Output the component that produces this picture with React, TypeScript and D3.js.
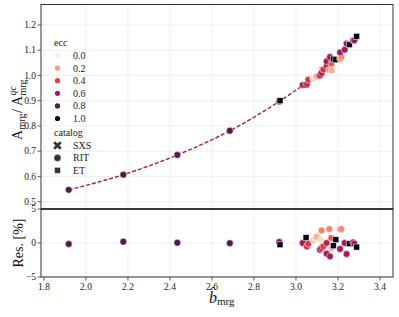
import React from 'react'
import * as d3 from 'd3'

// b-hat at merger, amplitude ratio, residual in %, eccentricity, catalog
const bHat = [1.918, 2.178, 2.435, 2.685, 2.920, 2.924, 3.032, 3.048, 3.052, 3.059, 3.082, 3.092, 3.099, 3.118, 3.122, 3.114, 3.122, 3.130, 3.146, 3.146, 3.159, 3.162, 3.168, 3.170, 3.178, 3.190, 3.210, 3.216, 3.210, 3.232, 3.241, 3.254, 3.272, 3.278, 3.289]
const ampRatio = [0.547, 0.607, 0.685, 0.781, 0.897, 0.900, 0.962, 0.962, 0.965, 0.983, 0.988, 0.993, 0.996, 1.025, 1.003, 1.000, 1.010, 1.023, 1.038, 1.056, 1.023, 1.073, 1.046, 1.020, 1.065, 1.062, 1.066, 1.073, 1.091, 1.102, 1.126, 1.122, 1.139, 1.139, 1.155]
const residual = [-0.15, 0.2, 0.05, -0.03, 0.15, -0.25, 0.0, 0.78, -0.5, -0.1, 0.38, 0.73, 0.88, 0.49, 1.85, -0.98, -0.74, -0.5, 0.0, -1.57, 2.05, -1.96, 0.73, -0.74, -0.4, 0.49, 2.05, 2.05, -0.88, 0.0, -1.62, -0.1, 0.1, -0.1, -0.6]
const ecc = [0.8, 0.8, 0.8, 0.8, 0.7, 1.0, 0.6, 1.0, 0.5, 0.45, 0.1, 0.05, 0.15, 0.05, 0.25, 0.55, 0.6, 0.45, 0.55, 0.6, 0.25, 0.6, 0.35, 0.15, 1.0, 1.0, 0.25, 0.25, 0.6, 0.6, 0.6, 1.0, 0.6, 0.65, 1.0]
const catalog = ['RIT', 'RIT', 'RIT', 'RIT', 'RIT', 'ET', 'RIT', 'ET', 'RIT', 'RIT', 'RIT', 'RIT', 'RIT', 'RIT', 'RIT', 'RIT', 'RIT', 'RIT', 'RIT', 'RIT', 'RIT', 'RIT', 'RIT', 'RIT', 'ET', 'ET', 'RIT', 'RIT', 'RIT', 'RIT', 'RIT', 'ET', 'RIT', 'RIT', 'ET']

// fitted curve
const fitB = [1.918, 2.178, 2.435, 2.685, 2.92, 3.05, 3.15, 3.22, 3.29]
const fitRatio = [0.547, 0.607, 0.685, 0.781, 0.897, 0.972, 1.040, 1.092, 1.148]

const xTicks = [1.8, 2.0, 2.2, 2.4, 2.6, 2.8, 3.0, 3.2, 3.4]
const ampTicks = [0.5, 0.6, 0.7, 0.8, 0.9, 1.0, 1.1, 1.2]
const resTicks = [-5, 0, 5]

const eccLevels = [0.0, 0.2, 0.4, 0.6, 0.8, 1.0]
const rocketColors = ['#faebdd', '#f69c73', '#e83f3f', '#a11a5b', '#4c1d4b', '#03051a']
const catalogs = ['SXS', 'RIT', 'ET']

const W = 399
const H = 317
const left = 41
const right = 393
const top = 4.5
const mid = 209
const bottom = 277
const font = 'Liberation Serif, DejaVu Serif, serif'

function Marker({ kind, x, y, fill, size }: { kind: string; x: number; y: number; fill: string; size: number }) {
    if (kind === 'ET') {
        return <rect x={x - size} y={y - size} width={size * 2} height={size * 2} fill={fill} stroke="white" strokeWidth={0.5} />
    }
    if (kind === 'SXS') {
        let p = d3.symbol().type(d3.symbolCross).size(size * size * 5)()
        return <path d={p || ''} transform={`translate(${x},${y}) rotate(45)`} fill={fill} stroke="white" strokeWidth={0.5} />
    }
    return <circle cx={x} cy={y} r={size + 0.4} fill={fill} stroke="white" strokeWidth={0.5} />
}

export default function App() {
    let x = d3.scaleLinear().domain([1.786, 3.462]).range([left, right])
    let yAmp = d3.scaleLinear().domain([0.471, 1.281]).range([mid, top])
    let yRes = d3.scaleLinear().domain([-5, 5]).range([bottom, mid])
    let color = d3.scaleLinear<string>().domain(eccLevels).range(rocketColors).interpolate(d3.interpolateRgb)

    let fitLine = d3.line<number>()
        .x((d, i) => x(fitB[i]))
        .y(d => yAmp(d))
        .curve(d3.curveMonotoneX)

    let idx = bHat.map((d, i) => i)
    let hatX = 213

    return (
        <svg width={W} height={H} style={{ position: 'absolute', left: 0, top: 0, fontFamily: font }}>
            <rect width={W} height={H} fill="white" />
            {/* grid */}
            {xTicks.map(t => (
                <g key={'gx' + t}>
                    <line x1={x(t)} x2={x(t)} y1={top} y2={mid} stroke="#ebebeb" strokeWidth={0.8} />
                    <line x1={x(t)} x2={x(t)} y1={mid} y2={bottom} stroke="#ebebeb" strokeWidth={0.8} />
                </g>
            ))}
            {ampTicks.map(t => (
                <line key={'ga' + t} x1={left} x2={right} y1={yAmp(t)} y2={yAmp(t)} stroke="#ebebeb" strokeWidth={0.8} />
            ))}
            {resTicks.map(t => (
                <line key={'gr' + t} x1={left} x2={right} y1={yRes(t)} y2={yRes(t)} stroke="#ebebeb" strokeWidth={0.8} />
            ))}

            {/* fit */}
            <path d={fitLine(fitRatio) || ''} fill="none" stroke="#b0202a" strokeWidth={1.4} strokeDasharray="4,2" />

            {/* points */}
            {idx.map(i => (
                <Marker key={'a' + i} kind={catalog[i]} x={x(bHat[i])} y={yAmp(ampRatio[i])} fill={color(ecc[i])} size={3} />
            ))}
            {idx.map(i => (
                <Marker key={'r' + i} kind={catalog[i]} x={x(bHat[i])} y={yRes(residual[i])} fill={color(ecc[i])} size={3} />
            ))}

            {/* frames */}
            <rect x={left} y={top} width={right - left} height={mid - top} fill="none" stroke="#333" strokeWidth={1} />
            <rect x={left} y={mid} width={right - left} height={bottom - mid} fill="none" stroke="#333" strokeWidth={1} />
            <line x1={left} x2={right} y1={mid} y2={mid} stroke="#111" strokeWidth={1.2} />

            {/* ticks */}
            {ampTicks.map(t => (
                <g key={'ta' + t}>
                    <line x1={left - 3.5} x2={left} y1={yAmp(t)} y2={yAmp(t)} stroke="#333" strokeWidth={0.8} />
                    <text x={left - 5} y={yAmp(t) + 3.2} fontSize={9.5} textAnchor="end" fill="#222">{t.toFixed(1)}</text>
                </g>
            ))}
            {resTicks.map(t => (
                <g key={'tr' + t}>
                    <line x1={left - 3.5} x2={left} y1={yRes(t)} y2={yRes(t)} stroke="#333" strokeWidth={0.8} />
                    <text x={left - 5} y={yRes(t) + 3.2} fontSize={9.5} textAnchor="end" fill="#222">{t < 0 ? '\u2212' + Math.abs(t) : t}</text>
                </g>
            ))}
            {xTicks.map(t => (
                <g key={'tx' + t}>
                    <line x1={x(t)} x2={x(t)} y1={bottom} y2={bottom + 3.5} stroke="#333" strokeWidth={0.8} />
                    <text x={x(t)} y={bottom + 13} fontSize={9.5} textAnchor="middle" fill="#222">{t.toFixed(1)}</text>
                </g>
            ))}

            {/* axis labels */}
            <g transform="translate(22,108) rotate(-90)" fill="#111">
                <text x={-32} y={0} fontSize={14}>A</text>
                <text x={-21.5} y={3} fontSize={10}>mrg</text>
                <text x={-5} y={0} fontSize={14}>/</text>
                <text x={2} y={0} fontSize={14}>A</text>
                <text x={12.5} y={-6} fontSize={10} fontStyle="italic">qc</text>
                <text x={12.5} y={3.5} fontSize={10}>mrg</text>
            </g>
            <text transform={`translate(23,${(mid + bottom) / 2}) rotate(-90)`} textAnchor="middle" fontSize={14} fill="#111">Res. [%]</text>
            <text x={209} y={303} fontSize={16} fill="#111">
                <tspan fontStyle="italic">b</tspan><tspan fontSize={11} dy={2}>mrg</tspan>
            </text>
            <path d={`M${hatX - 2.8},${290} L${hatX},${287} L${hatX + 2.8},${290}`} fill="none" stroke="#111" strokeWidth={0.9} />

            {/* legend */}
            <text x={54} y={46} fontSize={10} fill="#222">ecc</text>
            {eccLevels.map((e, i) => (
                <g key={'le' + e}>
                    <circle cx={57.5} cy={55.5 + i * 12.6} r={2.6} fill={color(e)} />
                    <text x={73} y={59 + i * 12.6} fontSize={10} fill="#222">{e.toFixed(1)}</text>
                </g>
            ))}
            <text x={54} y={135.5} fontSize={10} fill="#222">catalog</text>
            {catalogs.map((c, i) => (
                <g key={'lc' + c}>
                    <Marker kind={c} x={57.5} y={145.5 + i * 12.4} fill="#333" size={c === 'ET' ? 3 : 3.2} />
                    <text x={73} y={149 + i * 12.4} fontSize={10} fill="#222">{c}</text>
                </g>
            ))}
        </svg>
    )
}
